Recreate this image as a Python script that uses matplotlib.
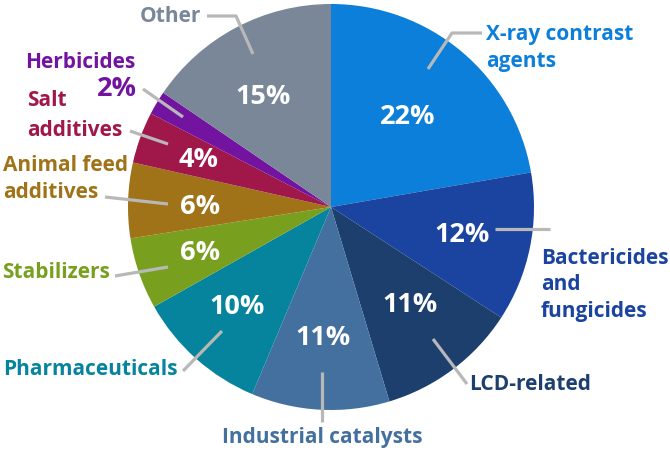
import matplotlib
matplotlib.use("Agg")
import matplotlib.pyplot as plt

# shares (clockwise from 12 o'clock)
categories = ["X-ray contrast agents", "Bactericides and fungicides", "LCD-related",
              "Industrial catalysts", "Pharmaceuticals", "Stabilizers",
              "Animal feed additives", "Salt additives", "Herbicides", "Other"]
shares = [22.3, 11.9, 11.2, 11.0, 10.5, 5.7, 6.0, 4.1, 1.9, 15.5]
pct_labels = ["22%", "12%", "11%", "11%", "10%", "6%", "6%", "4%", "2%", "15%"]
colors = ["#0b7fd9", "#1a44a0", "#1c3f6e", "#44709f", "#06849e",
          "#78a01e", "#a07318", "#a0174a", "#7214a0", "#7a8799"]

W, H = 670, 456
CX, CY, R = 331, 208, 203

plt.rcParams['font.family'] = ['Open Sans', 'DejaVu Sans']


def px(x, y):
    return ((x - CX) / R, (CY - y) / R)


fig = plt.figure(figsize=(W / 100, H / 100), dpi=100)
ax = fig.add_axes([0, 0, 1, 1])
ax.pie(shares, colors=colors, startangle=90, counterclock=False, radius=1,
       wedgeprops=dict(linewidth=0))
ax.set_xlim(px(0, 0)[0], px(W, 0)[0])
ax.set_ylim(px(0, H)[1], px(0, 0)[1])
ax.set_aspect('equal')
ax.axis('off')

LINE = "#b8b8b8"


def leader(points):
    xs, ys = zip(*[px(*p) for p in points])
    ax.plot(xs, ys, color=LINE, lw=2.3, solid_capstyle='butt', zorder=3)


def txt(x, y, s, color, size=15, ha='left', **kw):
    ax.text(*px(x, y), s, color=color, fontsize=size, fontweight='bold',
            ha=ha, va='center', zorder=4, **kw)


# percentage labels inside the slices
inside = [(408, 117), (462, 235), (410, 305), (323, 338), (237, 307),
          (200, 253), (200, 207), (199, 160), None, (263, 97)]
for pos, lab in zip(inside, pct_labels):
    if pos is not None:
        txt(pos[0], pos[1], lab, "white", size=19.5, ha='center')

# leader lines
leader([(428, 70), (452, 34), (482, 34)])
leader([(495, 230), (550, 230)])
leader([(433, 340), (467, 385)])
leader([(322, 373), (322, 423)])
leader([(222, 332), (183, 372)])
leader([(168, 268), (115, 277)])
leader([(168, 205), (105, 198)])
leader([(168, 145), (130, 132)])
leader([(183, 118), (143, 90)])
leader([(253, 55), (236, 17), (207, 17)])

# outside labels
LS = 1.32
txt(486, 48, "X-ray contrast\nagents", colors[0], linespacing=LS)
txt(541, 285, "Bactericides\nand\nfungicides", colors[1], linespacing=LS)
txt(469, 385, "LCD-related", colors[2])
txt(322, 438, "Industrial catalysts", colors[3], ha='center')
txt(178, 370, "Pharmaceuticals", colors[4], ha='right')
txt(110, 273, "Stabilizers", colors[5], ha='right')
txt(3, 179, "Animal feed\nadditives", colors[6], linespacing=LS)
txt(27, 101, "Salt", colors[7])
txt(27, 130, "additives", colors[7])
txt(25, 62, "Herbicides", colors[8])
txt(137, 89, pct_labels[8], colors[8], size=19.5, ha='right')
txt(201, 17, "Other", colors[9], ha='right')

fig.savefig("out.png", dpi=100)
